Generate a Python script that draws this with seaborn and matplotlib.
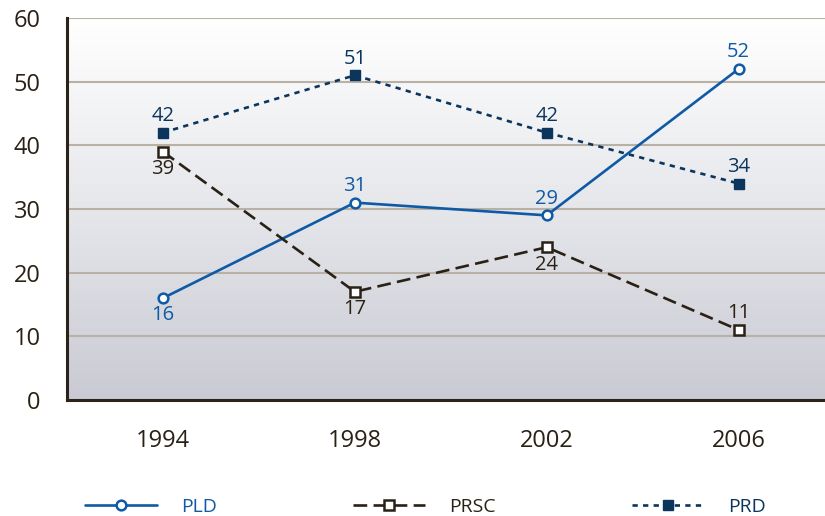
import numpy as np
import pandas as pd
import matplotlib
matplotlib.use("Agg")
import matplotlib.pyplot as plt
import seaborn as sns

# Election results by party
years = [1994, 1998, 2002, 2006]
pld = [16, 31, 29, 52]
prsc = [39, 17, 24, 11]
prd = [42, 51, 42, 34]

series_names = ["PLD", "PRSC", "PRD"]
y_ticks = [0, 10, 20, 30, 40, 50, 60]

sns.set_theme(style="white")
plt.rcParams["font.family"] = ["Open Sans", "DejaVu Sans"]

BLUE = "#0f5aa6"
BROWN = "#2a2116"
NAVY = "#0b355c"
AXIS = "#2b2317"
GRID = "#b9b1a5"

fig = plt.figure(figsize=(8.25, 5.16), dpi=100)
ax = fig.add_axes([67 / 825, 116 / 516, 1 - 67 / 825, (400 - 18) / 516])

# vertical gradient fill behind the plot
grad = np.linspace(0, 1, 256).reshape(-1, 1)
cmap = matplotlib.colors.LinearSegmentedColormap.from_list(
    "bg", ["#ffffff", "#e6e7eb", "#c9cad3"])
ax.imshow(grad, aspect="auto", cmap=cmap, extent=[0, 1, 0, 1],
          transform=ax.transAxes, zorder=0, interpolation="bilinear")

df = pd.DataFrame({"year": years * 3,
                   "value": pld + prsc + prd,
                   "party": np.repeat(series_names, len(years))})

styles = {
    "PLD": dict(color=BLUE, marker="o", markersize=7, markerfacecolor="white",
                markeredgecolor=BLUE, markeredgewidth=1.8, linestyle="-"),
    "PRSC": dict(color=BROWN, marker="s", markersize=7.5, markerfacecolor="white",
                 markeredgecolor=BROWN, markeredgewidth=1.8,
                 linestyle=(0, (5.2, 2.4))),
    "PRD": dict(color=NAVY, marker="s", markersize=7, markerfacecolor=NAVY,
                markeredgecolor=NAVY, markeredgewidth=1, linestyle=(0, (2.0, 2.0))),
}

for name in series_names:
    sub = df[df["party"] == name]
    sns.lineplot(data=sub, x="year", y="value", ax=ax, label=name,
                 linewidth=1.9, zorder=3, legend=False, **styles[name])

# value labels
label_pos = {
    "PLD": ["below", "above", "above", "above"],
    "PRSC": ["below", "below", "below", "above"],
    "PRD": ["above", "above", "above", "above"],
}
label_color = {"PLD": BLUE, "PRSC": BROWN, "PRD": NAVY}
for name in series_names:
    sub = df[df["party"] == name]
    for (x, y), pos in zip(sub[["year", "value"]].values, label_pos[name]):
        dy = 12 if pos == "above" else -12.5
        ax.annotate(f"{y}", (x, y), xytext=(0, dy), textcoords="offset points",
                    ha="center", va="center", fontsize=14.5,
                    color=label_color[name], zorder=4)

ax.set_xlim(1992, 2007.8)
ax.set_ylim(0, 60)
ax.set_yticks(y_ticks)
ax.set_xticks(years)
ax.set_xticks([1992, 1996, 2000, 2004], minor=True)
ax.set_xlabel("")
ax.set_ylabel("")

ax.grid(axis="y", color=GRID, linewidth=1.5, zorder=1)
ax.set_axisbelow(True)
for side in ["top", "right"]:
    ax.spines[side].set_visible(False)
for side in ["left", "bottom"]:
    ax.spines[side].set_color(AXIS)
    ax.spines[side].set_linewidth(2.2)
    ax.spines[side].set_zorder(5)

ax.tick_params(axis="both", which="both", direction="out", length=11,
               width=1.2, color="#4a4236", labelcolor="#2a2116", labelsize=17)
ax.tick_params(axis="y", pad=8)
ax.tick_params(axis="x", pad=10)

# legend below the plot
handles = [l for l in ax.lines[:3]]
leg = fig.legend(handles, series_names, loc="center left",
                 bbox_to_anchor=(85 / 825, 9 / 516), ncol=3, frameon=False,
                 fontsize=14, handlelength=3.7, handletextpad=1.25,
                 columnspacing=7.0, borderpad=0, borderaxespad=0)
for txt, name in zip(leg.get_texts(), series_names):
    txt.set_color(label_color[name])

fig.savefig("out.png", dpi=100)
